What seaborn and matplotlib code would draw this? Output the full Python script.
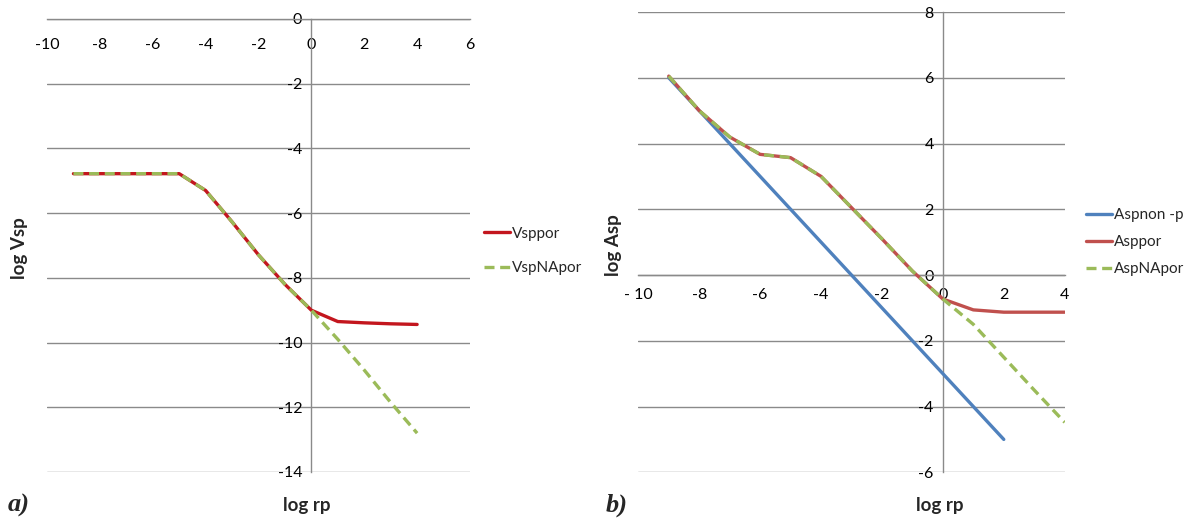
import matplotlib
matplotlib.use("Agg")
import matplotlib.pyplot as plt
import seaborn as sns
import pandas as pd

# ---- data: panel a) ----
rp_a = [-9, -8, -7, -6, -5, -4, -3, -2, -1, 0, 1, 2, 3, 4]
vsppor = [-4.78, -4.78, -4.78, -4.78, -4.78, -5.3, -6.27, -7.29, -8.2, -9.0, -9.35, -9.39, -9.42, -9.44]
vspnapor = [-4.78, -4.78, -4.78, -4.78, -4.78, -5.3, -6.27, -7.29, -8.2, -9.0, -9.9, -10.85, -11.85, -12.8]
xticks_a = [-10, -8, -6, -4, -2, 0, 2, 4, 6]
yticks_a = [0, -2, -4, -6, -8, -10, -12, -14]

# ---- data: panel b) ----
rp_b = [-9, -8, -7, -6, -5, -4, -3, -2, -1, 0, 1, 2, 3, 4]
rp_nonp = [-9, -8, -7, -6, -5, -4, -3, -2, -1, 0, 1, 2]
aspnonp = [6, 5, 4, 3, 2, 1, 0, -1, -2, -3, -4, -5]
asppor = [6.05, 5.0, 4.2, 3.67, 3.57, 3.0, 2.05, 1.1, 0.12, -0.73, -1.06, -1.13, -1.13, -1.13]
aspnapor = [6.05, 5.0, 4.2, 3.67, 3.57, 3.0, 2.05, 1.1, 0.12, -0.73, -1.5, -2.5, -3.5, -4.48]
xticks_b = [-10, -8, -6, -4, -2, 0, 2, 4]
xticklabels_b = ["- 10", "-8", "-6", "-4", "-2", "0", "2", "4"]
yticks_b = [8, 6, 4, 2, 0, -2, -4, -6]

sns.set_style("white")
plt.rcParams["font.family"] = ["Lato", "DejaVu Sans"]

GRID = "#8a8a8a"
RED_A = "#C3161E"
RED_B = "#C0504D"
GREEN = "#9BBB59"
BLUE = "#4F81BD"
LW = 2.4
DASH = (3.0, 1.7)
TICK_FS = 11.5

fig = plt.figure(figsize=(11.94, 5.19), dpi=100)
ax1 = fig.add_axes([47 / 1194, 1 - 472 / 519, 423 / 1194, 453 / 519])
ax2 = fig.add_axes([638.3 / 1194, 1 - 472.3 / 519, 426.4 / 1194, 460.3 / 519])

df_a = pd.DataFrame({"rp": rp_a, "Vsppor": vsppor, "VspNApor": vspnapor})
df_nonp = pd.DataFrame({"rp": rp_nonp, "Aspnon -p": aspnonp})
df_b = pd.DataFrame({"rp": rp_b, "Asppor": asppor, "AspNApor": aspnapor})

# panel a)
sns.lineplot(data=df_a, x="rp", y="Vsppor", ax=ax1, color=RED_A, lw=LW,
             label="Vsppor", zorder=3)
sns.lineplot(data=df_a, x="rp", y="VspNApor", ax=ax1, color=GREEN, lw=LW,
             dashes=False, label="VspNApor", zorder=4)
ax1.lines[1].set_dashes(DASH)

# panel b)
sns.lineplot(data=df_nonp, x="rp", y="Aspnon -p", ax=ax2, color=BLUE, lw=LW,
             label="Aspnon -p", zorder=3)
sns.lineplot(data=df_b, x="rp", y="Asppor", ax=ax2, color=RED_B, lw=LW,
             label="Asppor", zorder=3)
sns.lineplot(data=df_b, x="rp", y="AspNApor", ax=ax2, color=GREEN, lw=LW,
             dashes=False, label="AspNApor", zorder=4)
ax2.lines[2].set_dashes(DASH)


def style_axes(ax, xlim, ylim, xticks, xlabels, yticks, xpad):
    ax.set_xlim(*xlim)
    ax.set_ylim(*ylim)
    ax.set_xticks(xticks)
    ax.set_xticklabels(xlabels)
    ax.set_yticks(yticks)
    ax.set_yticklabels([str(v) for v in yticks])
    ax.set_xlabel("")
    ax.set_ylabel("")
    for s in ["top", "right"]:
        ax.spines[s].set_visible(False)
    ax.spines["bottom"].set_position(("data", 0))
    ax.spines["left"].set_position(("data", 0))
    for s in ["bottom", "left"]:
        ax.spines[s].set_color(GRID)
        ax.spines[s].set_linewidth(1.0)
        ax.spines[s].set_zorder(2)
    ax.yaxis.grid(True, color=GRID, lw=1.0, zorder=1)
    ax.xaxis.grid(False)
    ax.set_axisbelow(True)
    ax.tick_params(axis="x", direction="out", length=4, width=1.0,
                   color=GRID, pad=xpad, labelsize=TICK_FS, labelcolor="#000000")
    ax.tick_params(axis="y", direction="out", length=4, width=1.0,
                   color=GRID, pad=2.5, labelsize=TICK_FS, labelcolor="#000000")
    ax.set_facecolor("white")


style_axes(ax1, (-10, 6), (-14, 0), xticks_a, [str(v) for v in xticks_a],
           yticks_a, 9.5)
style_axes(ax2, (-10, 4), (-6, 8), xticks_b, xticklabels_b, yticks_b, 5.5)

# legends
ax1.legend(loc="center left", bbox_to_anchor=(484 / 1194, 1 - 251 / 519),
           bbox_transform=fig.transFigure, frameon=False, fontsize=11,
           handlelength=1.7, handletextpad=0.15, labelspacing=1.35,
           borderpad=0, borderaxespad=0)
ax2.legend(loc="center left", bbox_to_anchor=(1086 / 1194, 1 - 242 / 519),
           bbox_transform=fig.transFigure, frameon=False, fontsize=11,
           handlelength=1.7, handletextpad=0.15, labelspacing=0.85,
           borderpad=0, borderaxespad=0)
for lg in (ax1.get_legend(), ax2.get_legend()):
    for h in lg.legend_handles:
        if h.get_color() == GREEN:
            h.set_dashes(DASH)

# axis titles
fig.text(20 / 1194, 1 - 248 / 519, "log Vsp", rotation=90, ha="center",
         va="center", fontsize=13.5, fontweight="bold")
fig.text(307 / 1194, 1 - 506 / 519, "log rp", ha="center", va="center",
         fontsize=13.5, fontweight="bold")
fig.text(613 / 1194, 1 - 245 / 519, "log Asp", rotation=90, ha="center",
         va="center", fontsize=13.5, fontweight="bold")
fig.text(940 / 1194, 1 - 506 / 519, "log rp", ha="center", va="center",
         fontsize=13.5, fontweight="bold")

# panel tags
fig.text(8 / 1194, 1 - 505 / 519, "a)", ha="left", va="center", fontsize=19,
         fontweight="bold", fontstyle="italic", family="Liberation Serif")
fig.text(606 / 1194, 1 - 505 / 519, "b)", ha="left", va="center", fontsize=19,
         fontweight="bold", fontstyle="italic", family="Liberation Serif")

fig.savefig("out.png", dpi=100, facecolor="white")
